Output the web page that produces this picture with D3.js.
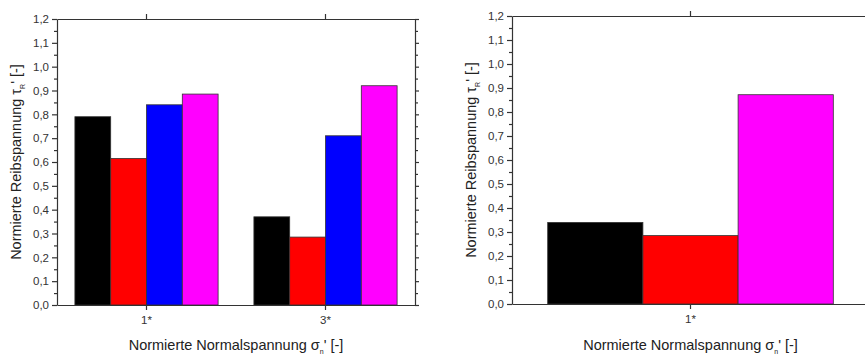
<!DOCTYPE html>
<html>
<head>
<meta charset="utf-8">
<script src="https://cdn.jsdelivr.net/npm/d3@7"></script>
<style>
  body { margin: 0; background: #fff; }
  svg { display: block; font-family: "Liberation Sans", Arial, sans-serif; }
  .axis path, .axis line { stroke: #333; }
  .axis text { fill: #333; font-size: 11.5px; }
  .title { fill: #222; font-size: 14.5px; }
</style>
</head>
<body>
<div id="chart"></div>
<script>
// DATA
var yTicks = [0, 0.1, 0.2, 0.3, 0.4, 0.5, 0.6, 0.7, 0.8, 0.9, 1.0, 1.1, 1.2];

var leftCategories = ["1*", "3*"];
var leftSeries = ["A", "B", "C", "D"];
var leftColors = ["#000000", "#ff0000", "#0000ff", "#ff00ff"];
var leftValues = [
  [0.79, 0.37],   // black
  [0.615, 0.285], // red
  [0.84, 0.71],   // blue
  [0.885, 0.92]   // magenta
];

var rightCategories = ["1*"];
var rightSeries = ["A", "B", "D"];
var rightColors = ["#000000", "#ff0000", "#ff00ff"];
var rightValues = [
  [0.34],  // black
  [0.285], // red
  [0.872]  // magenta
];

var svg = d3.select("#chart").append("svg")
  .attr("width", 865)
  .attr("height", 354);

var fmt = function(d) { return d3.format(".1f")(d).replace(".", ","); };

//DRAW ONE PANEL
function drawPanel(cfg) {
  var xScale = d3.scaleBand()
    .domain(cfg.categories)
    .range([cfg.left, cfg.right])
    .paddingInner(0.2)
    .paddingOuter(0.1);

  var subScale = d3.scaleBand()
    .domain(cfg.series)
    .range([0, xScale.bandwidth()]);

  var yScale = d3.scaleLinear()
    .domain([0, 1.2])
    .range([cfg.bottom, cfg.top]);

  var g = svg.append("g");

  // bars
  cfg.series.forEach(function(s, i) {
    g.selectAll(".bar_" + s)
      .data(cfg.values[i])
      .enter().append("rect")
      .attr("x", function(d, j) { return xScale(cfg.categories[j]) + subScale(s); })
      .attr("y", function(d) { return yScale(d); })
      .attr("width", subScale.bandwidth())
      .attr("height", function(d) { return yScale(0) - yScale(d); })
      .attr("fill", cfg.colors[i])
      .attr("stroke", "#333")
      .attr("stroke-width", 0.8);
  });

  var minor = d3.range(0.05, 1.2, 0.1);

  // left axis
  g.append("g").attr("class", "axis")
    .attr("transform", "translate(" + cfg.left + ",0)")
    .call(d3.axisLeft(yScale).tickValues(minor).tickSize(3).tickFormat(""))
    .call(function(a) { a.select(".domain").remove(); });
  g.append("g").attr("class", "axis")
    .attr("transform", "translate(" + cfg.left + ",0)")
    .call(d3.axisLeft(yScale).tickValues(yTicks).tickSize(5).tickSizeOuter(0).tickPadding(3).tickFormat(fmt));

  // right axis
  g.append("g").attr("class", "axis")
    .attr("transform", "translate(" + cfg.right + ",0)")
    .call(d3.axisRight(yScale).tickValues(minor).tickSize(3).tickFormat(""))
    .call(function(a) { a.select(".domain").remove(); });
  g.append("g").attr("class", "axis")
    .attr("transform", "translate(" + cfg.right + ",0)")
    .call(d3.axisRight(yScale).tickValues(yTicks).tickSize(4).tickSizeOuter(0).tickFormat(""));

  // bottom axis
  g.append("g").attr("class", "axis")
    .attr("transform", "translate(0," + cfg.bottom + ")")
    .call(d3.axisBottom(xScale).tickSize(5).tickSizeOuter(0).tickPadding(6));

  // top axis
  g.append("g").attr("class", "axis")
    .attr("transform", "translate(0," + cfg.top + ")")
    .call(d3.axisTop(xScale).tickSize(5).tickSizeOuter(0).tickFormat(""));

  g.selectAll(".axis path, .axis line").attr("stroke-width", 1.2);

  // x title
  var xt = g.append("text").attr("class", "title")
    .attr("x", (cfg.left + cfg.right) / 2)
    .attr("y", 350)
    .attr("text-anchor", "middle");
  xt.append("tspan").text("Normierte Normalspannung σ");
  xt.append("tspan").attr("dy", 4).style("font-size", "7px").text("n");
  xt.append("tspan").attr("dy", -4).text("' [-]");

  // y title
  var yt = g.append("text").attr("class", "title")
    .attr("transform", "translate(" + cfg.ytitleX + "," + ((cfg.top + cfg.bottom) / 2) + ") rotate(-90)")
    .attr("text-anchor", "middle");
  yt.append("tspan").text("Normierte Reibspannung τ");
  yt.append("tspan").attr("dy", 4).style("font-size", "7px").text("R");
  yt.append("tspan").attr("dy", -4).text("' [-]");
}

drawPanel({
  categories: leftCategories, series: leftSeries, colors: leftColors, values: leftValues,
  left: 57, right: 415, top: 19, bottom: 305, ytitleX: 21
});

drawPanel({
  categories: rightCategories, series: rightSeries, colors: rightColors, values: rightValues,
  left: 512, right: 869, top: 16, bottom: 304, ytitleX: 476
});
</script>
</body>
</html>
